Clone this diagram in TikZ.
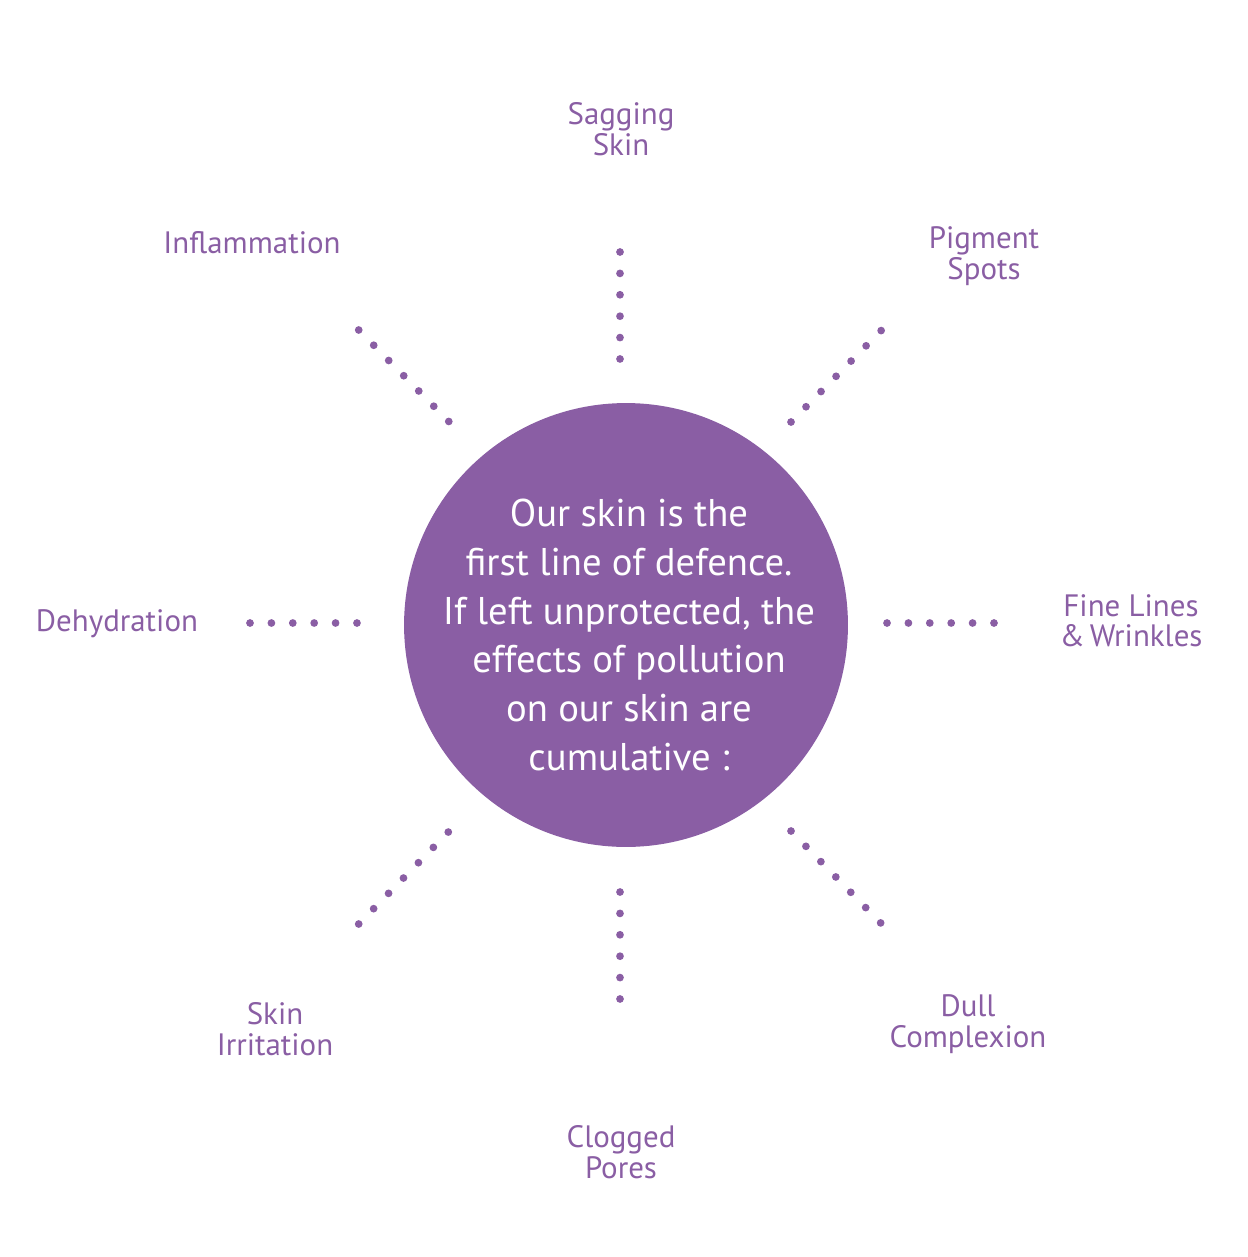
\documentclass[tikz,border=0pt]{standalone}
\usepackage{fontspec}
\setmainfont{PT Sans}
\definecolor{skinpurple}{RGB}{138,94,164}
\usepackage{tikz}
\usetikzlibrary{positioning}

\begin{document}
\begin{tikzpicture}[
    x=0.02cm, y=-0.02cm,
    core/.style={circle, minimum size=8.88cm, inner sep=0pt, fill=skinpurple},
    coretext/.style={align=center, text=white, font=\fontsize{22}{27.8}\selectfont},
    effect/.style={align=center, text=skinpurple, font=\fontsize{17.6}{17.3}\selectfont},
    dotline/.style={skinpurple, line width=4.4pt, line cap=round, dash pattern=on 0pt off 0.428cm}
]
    \useasboundingbox (0,0) rectangle (1247,1257);

    % centre
    \node[core] (core) at (626,625) {};
    \node[coretext] (msg) at (629,635) {Our skin is the\\first line of defence.\\If left unprotected, the\\effects of pollution\\on our skin are\\cumulative :};

    % effects
    \node[effect] (sag) at (621,129) {Sagging\\Skin};
    \node[effect] (pig) at (984,256) {Pigment\\Spots};
    \node[effect] (infl) at (252,243) {Inflammation};
    \node[effect] (dehyd) at (117,624) {Dehydration};
    \node[effect] (fine) at (1131,621) {Fine Lines\\\&\,Wrinkles};
    \node[effect] (dull) at (968,1024) {Dull\\Complexion};
    \node[effect] (clog) at (621,1152) {Clogged\\Pores};
    \node[effect] (irrit) at (275,1029) {Skin\\Irritation};

    % dotted rays
    \coordinate (n1) at (620,252);   \coordinate (n2) at (620,361);
    \coordinate (s1) at (620,892);   \coordinate (s2) at (620,1000);
    \coordinate (w1) at (250,623);   \coordinate (w2) at (358,623);
    \coordinate (e1) at (887,623);   \coordinate (e2) at (996,623);
    \coordinate (nw1) at (358.7,330); \coordinate (nw2) at (449.3,422);
    \coordinate (ne1) at (791,422);  \coordinate (ne2) at (881.7,330);
    \coordinate (sw1) at (358.7,924); \coordinate (sw2) at (449.3,831);
    \coordinate (se1) at (791,831);  \coordinate (se2) at (881.7,924);
    \draw[dotline] (n1) -- (n2);
    \draw[dotline] (s1) -- (s2);
    \draw[dotline] (w1) -- (w2);
    \draw[dotline] (e1) -- (e2);
    \draw[dotline] (nw1) -- (nw2);
    \draw[dotline] (ne1) -- (ne2);
    \draw[dotline] (sw1) -- (sw2);
    \draw[dotline] (se1) -- (se2);
\end{tikzpicture}
\end{document}
